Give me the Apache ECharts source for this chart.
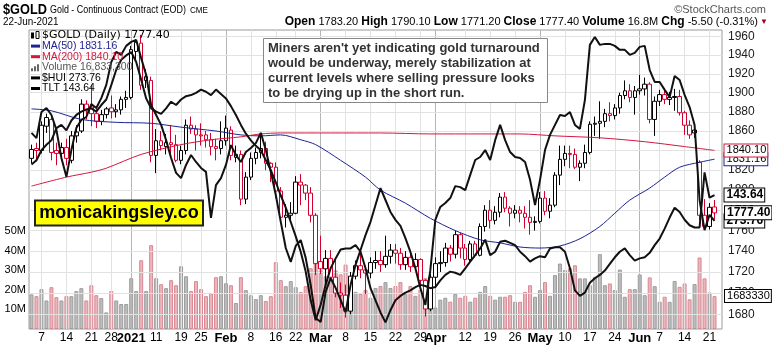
<!DOCTYPE html>
<html>
<head>
<meta charset="utf-8">
<title>$GOLD</title>
<script src="https://cdn.jsdelivr.net/npm/echarts@6/dist/echarts.min.js"></script>
<style>
html,body{margin:0;padding:0;background:#fff;}
#chart{width:772px;height:346px;}
</style>
</head>
<body>
<div id="chart"></div>
<script>
// ---------------- DATA ----------------
const months = ['Dec','Jan','Feb','Mar','Apr','May','Jun'];
const monthDays = [
  [3,4,7,8,9,10,11,14,15,16,17,18,21,22,23,24,28,29,30,31],
  [4,5,6,7,8,11,12,13,14,15,19,20,21,22,25,26,27,28,29],
  [1,2,3,4,5,8,9,10,11,12,16,17,18,19,22,23,24,25,26],
  [1,2,3,4,5,8,9,10,11,12,15,16,17,18,19,22,23,24,25,26,29,30,31],
  [1,5,6,7,8,9,12,13,14,15,16,19,20,21,22,23,26,27,28,29,30],
  [3,4,5,6,7,10,11,12,13,14,17,18,19,20,21,24,25,26,27,28],
  [1,2,3,4,7,8,9,10,11,14,15,16,17,18,21,22]
];
// x-axis tick labels
const xTickDates = ['Dec 7','Dec 14','Dec 21','Dec 28','Jan 4','Jan 11','Jan 19','Jan 25','Feb 1','Feb 8','Feb 16','Feb 22','Mar 1','Mar 8','Mar 15','Mar 22','Mar 29','Apr 1','Apr 12','Apr 19','Apr 26','May 3','May 10','May 17','May 24','Jun 1','Jun 7','Jun 14','Jun 21'];
const xTickText  = ['7','14','21','28','2021','11','19','25','Feb','8','16','22','Mar','8','15','22','29','Apr','12','19','26','May','10','17','24','Jun','7','14','21'];
const xMonthTicks = ['2021','Feb','Mar','Apr','May','Jun'];
// price axis ticks (right, log scale)
const priceTicks = [1680,1700,1720,1740,1760,1780,1800,1820,1840,1860,1880,1900,1920,1940,1960];
// daily OHLC: [open, close, low, high]
const ohlc = [
[1832,1841,1827,1846],[1842,1840,1829,1848],[1840,1866,1837,1870],[1865,1874,1858,1878],[1872,1838,1830,1876],
[1840,1837,1825,1848],[1837,1843,1830,1848],[1843,1832,1825,1852],[1830,1855,1827,1860],[1855,1859,1848,1866],
[1860,1888,1858,1893],[1888,1881,1872,1892],[1885,1878,1865,1908],[1878,1870,1863,1885],[1870,1877,1866,1882],
[1877,1883,1873,1885],[1884,1880,1873,1897],[1880,1882,1874,1888],[1882,1893,1877,1896],[1893,1895,1884,1902],
[1895,1946,1893,1950],[1944,1954,1935,1957],[1953,1908,1903,1962],[1917,1913,1905,1925],[1913,1835,1828,1917],
[1835,1850,1817,1862],[1850,1845,1840,1860],[1844,1848,1836,1857],[1848,1846,1836,1866],[1846,1830,1828,1856],
[1830,1840,1826,1845],[1840,1866,1836,1872],[1866,1862,1857,1875],[1862,1856,1840,1866],[1856,1855,1845,1868],
[1856,1851,1843,1860],[1851,1844,1835,1858],[1844,1842,1830,1852],[1842,1850,1836,1870],[1850,1863,1845,1876],
[1861,1835,1830,1865],[1833,1836,1828,1845],[1836,1791,1785,1840],[1791,1813,1786,1818],[1813,1832,1810,1838],
[1832,1838,1826,1843],[1838,1842,1832,1855],[1842,1827,1820,1849],[1827,1823,1808,1828],[1823,1799,1792,1828],
[1799,1773,1770,1803],[1773,1775,1763,1786],[1775,1777,1768,1788],[1777,1808,1776,1814],[1808,1805,1785,1816],
[1805,1797,1790,1806],[1797,1775,1768,1803],[1775,1728,1717,1777],[1730,1723,1718,1755],[1723,1733,1707,1741],
[1733,1715,1712,1741],[1715,1700,1696,1732],[1700,1698,1686,1710],[1698,1683,1677,1708],[1683,1716,1680,1720],
[1716,1726,1713,1731],[1726,1722,1714,1739],[1722,1719,1699,1726],[1719,1729,1714,1734],[1729,1731,1723,1740],
[1731,1727,1720,1740],[1727,1735,1724,1755],[1735,1741,1728,1747],[1741,1738,1728,1747],[1738,1727,1722,1743],
[1727,1734,1722,1740],[1734,1725,1720,1740],[1725,1732,1721,1738],[1732,1712,1705,1733],[1712,1685,1678,1713],
[1685,1715,1683,1718],[1715,1728,1705,1734],[1728,1729,1720,1740],[1729,1743,1725,1748],[1743,1737,1730,1746],
[1737,1756,1733,1760],[1756,1743,1733,1758],[1743,1732,1726,1747],[1732,1747,1730,1750],[1747,1736,1734,1750],
[1736,1764,1735,1767],[1764,1780,1759,1785],[1780,1770,1762,1790],[1770,1778,1766,1784],[1778,1793,1773,1797],
[1793,1782,1778,1798],[1782,1777,1764,1784],[1777,1780,1772,1785],[1780,1777,1768,1784],[1777,1773,1762,1784],
[1773,1768,1756,1790],[1768,1769,1760,1774],[1769,1792,1767,1798],[1792,1779,1775,1799],[1779,1785,1772,1792],
[1785,1815,1783,1818],[1815,1831,1805,1845],[1831,1837,1824,1845],[1837,1836,1822,1845],[1836,1823,1821,1842],
[1823,1827,1809,1830],[1827,1838,1822,1846],[1838,1867,1836,1870],[1867,1868,1855,1875],[1868,1870,1852,1891],
[1870,1878,1864,1883],[1878,1876,1870,1890],[1876,1884,1872,1888],[1884,1897,1878,1900],[1897,1902,1893,1913],
[1902,1895,1890,1909],[1895,1902,1877,1907],[1902,1904,1898,1919],[1904,1909,1897,1916],[1909,1872,1868,1911],
[1872,1891,1855,1896],[1891,1898,1886,1903],[1898,1893,1888,1905],[1893,1895,1887,1901],[1895,1896,1881,1904],
[1896,1879,1876,1903],[1879,1866,1856,1881],[1866,1856,1852,1871],[1858,1861,1853,1864],[1828,1775,1770,1830],
[1775,1764,1761,1791],[1764,1782.9,1761,1787],[1783.2,1777.4,1771.2,1790.1]
];
// daily volume, millions
const volumes = [
17.7,16.8,20.4,14.6,21.4,16.3,14.6,16.8,16.8,19.4,20.9,14.6,22.4,17.3,15.8,8.5,19.4,14.6,12.8,12.8,
26.0,19.4,35.2,19.4,42.9,26.0,22.9,20.9,25.0,22.4,32.1,27.0,19.4,24.5,20.4,16.8,18.3,26.5,27.0,
23.4,22.4,13.3,26.5,19.9,17.3,15.3,17.3,14.3,16.8,34.2,25.0,21.9,24.5,21.4,18.9,21.9,31.1,38,
30,27,26,30,28,33,26,19,18,20,16,21,22,24,21,22,24,18,22,17,20,26,18,
11,15,16,14,18,16,17,14,16,19,22,17,15,16.5,16.5,17.3,13.9,13.9,19.0,22.4,16.5,
19.9,24.0,17.0,27.6,33.5,30.1,31.1,32.6,25.9,25.9,22.4,26.7,38.3,22.4,23.3,19.9,30.4,16.5,20.4,20.4,
27.9,17.3,26.4,21.9,13.9,16.5,13.9,24.6,21.6,23.3,15.2,23.0,36.6,25.9,18.7,16.8333
];
// moving averages [day index, value]
const ma50 = [[0,1883],[4,1881],[10,1872],[17,1869],[24,1868],[30,1864],[37,1860],[42,1856],[46,1855],[50,1856],[54,1851],[57,1846],[62,1830],[67,1813],[70,1800],[75,1787],[80,1772],[85,1760],[90,1751],[94,1748],[98,1744],[102,1743],[106,1745],[110,1752],[114,1764],[117,1777],[120,1790],[124,1802],[127,1813],[130,1823],[134,1828],[137,1831.16]];
const ma200 = [[0,1804],[7,1813],[12,1818],[15,1822],[22,1836],[30,1846],[36,1851],[42,1854],[46,1857],[50,1858],[60,1858],[70,1858],[80,1857],[90,1857],[98,1857],[105,1855],[114,1853],[123,1849],[131,1844],[137,1840.10]];
// overlay: $HUI daily close
const hui = [
300.4,298.8,306.7,307.9,305.8,301.3,292.8,287.1,295.2,301.9,304.3,305.2,309.1,307.9,310.9,314.9,321.8,324.9,324.0,326.7,
327.9,328.5,323.0,317.9,308.8,305.8,302.8,298.2,292.8,288.3,286.7,290.7,293.7,291.6,289.8,288.6,274.7,284.6,286.7,
290.7,296.7,293.7,291.6,294.6,295.8,297.3,300.4,295.2,288.6,281.6,273.5,265.6,261.4,266.2,268.0,262.6,254.4,244.4,
243.2,252.3,256.5,253.5,249.9,246.2,254.4,260.5,265.0,269.5,273.5,278.6,283.7,280.1,276.5,274.1,272.3,268.6,264.4,259.5,253.5,248.4,258.9,
274.1,278.0,279.2,280.7,284.3,284.0,283.1,287.7,292.2,293.1,295.2,292.2,298.2,302.8,298.2,294.6,293.1,292.8,291.6,286.2,278.6,
286.2,295.2,299.8,302.8,305.8,305.5,306.7,302.8,301.6,310.3,327.0,329.4,327.0,327.3,327.3,326.7,325.5,325.5,324.0,324.6,
326.4,326.7,319.4,315.8,315.8,313.4,311.2,317.6,316.4,311.9,308.2,302.8,280.1,271.0,275.6,273.76
];
// overlay: TLT daily close
const tlt = [
146.4,146.8,147.7,148.2,148.6,149.7,150.0,149.5,150.4,150.9,151.2,151.4,151.5,151.2,151.8,152.3,153.6,155.0,155.9,156.3,
156.6,155.7,154.1,152.4,151.5,151.2,151.0,151.5,152.1,151.8,152.3,152.6,152.7,152.9,153.2,153.0,152.7,153.2,152.8,
152.4,151.7,150.9,150.0,149.2,148.6,148.1,147.7,146.8,145.9,144.8,143.6,142.5,141.2,139.9,138.5,136.7,134.1,132.3,
133.7,135.5,137.0,137.9,138.7,138.8,138.8,139.1,138.5,137.0,135.2,134.1,133.0,132.1,133.2,134.1,134.5,134.8,135.0,135.3,135.5,135.4,135.2,
135.3,135.9,136.4,136.7,136.6,136.4,137.0,137.6,138.2,138.8,139.6,138.2,138.5,139.4,139.5,139.3,139.1,138.5,138.1,137.6,137.9,
138.1,138.0,138.8,138.9,138.9,138.5,137.0,135.0,134.5,134.8,135.7,136.1,136.4,136.8,137.4,138.0,138.5,138.8,138.2,137.7,
137.9,138.0,138.4,139.1,139.7,140.6,141.6,142.5,142.1,141.4,140.9,140.7,140.7,145.7,143.4,143.64
];
const annotationLines = [
  "Miners aren't yet indicating gold turnaround",
  "would be underway, merely stabilization at",
  "current levels where selling pressure looks",
  "to be drying up in the short run."
];

// ---------------- BUILD ----------------
const categories = [];
months.forEach((m, i) => monthDays[i].forEach(d => categories.push(m + ' ' + d)));
categories.push(' ');
const tickMap = {};
xTickDates.forEach((d, i) => tickMap[d] = xTickText[i]);

const RED = '#d0002f', PINK = '#e8b7be', PINKB = '#d98892', GRAY = '#bdbdbd', GRAYB = '#9c9c9c';
const NAVY = '#1c2396', MAR = '#d4173f';
const FONT = 'Arial, "Liberation Sans", sans-serif';

const last = ohlc.length - 1;
const closeLast = ohlc[last][1];
const prevClose = ohlc[last - 1][1];

const candleData = ohlc.map((r, i) => {
  const prev = i ? ohlc[i - 1][1] : r[0];
  const col = r[1] < prev ? RED : '#000';
  return { value: r, itemStyle: { color: '#fff', color0: col, borderColor: col, borderColor0: col } };
});
const volData = volumes.map((v, i) => {
  const prev = i ? ohlc[i - 1][1] : ohlc[i][0];
  const down = ohlc[i][1] < prev;
  return { value: v, itemStyle: { color: down ? PINK : GRAY, borderColor: down ? PINKB : GRAYB, borderWidth: 1 } };
});

const tagStyle = (txt, border, bold) => ({
  show: true, formatter: () => txt, color: '#000', fontFamily: FONT,
  fontSize: bold ? 12 : 11, fontWeight: bold ? 'bold' : 'normal',
  backgroundColor: '#fff', borderColor: border, borderWidth: 1, padding: [1, 1, 0, 2]
});

const vLines = xTickDates.map((d, i) => ({
  xAxis: d,
  lineStyle: { color: xMonthTicks.includes(xTickText[i]) ? '#b5b5b5' : '#e2e2e2', width: 1, type: 'solid' }
}));

// header / legend graphics
const graphics = [];
const txt = (x, y, text, font, fill, align, sx) => graphics.push({
  type: 'text', x: x, y: y, z: 100, scaleX: sx || 1,
  style: { text: text, font: font, fill: fill || '#000', textAlign: align || 'left', align: align || 'left', textVerticalAlign: 'middle', verticalAlign: 'middle' }
});
txt(3, 10, '$GOLD', 'bold 15px ' + FONT, '#000', 'left', 0.85);
txt(50, 10, 'Gold - Continuous Contract (EOD)', '10.5px ' + FONT, '#000', 'left', 0.85);
txt(190, 11, 'CME', '9px ' + FONT, '#000', 'left', 0.9);
txt(3, 22, '22-Jun-2021', '11px ' + FONT, '#000', 'left', 0.9);
txt(766, 10, '\u00A9StockCharts.com', '11px ' + FONT, '#555', 'right');
const chg = closeLast - prevClose;
graphics.push({
  type: 'text', x: 758, y: 22, z: 100,
  style: {
    text: '{b|Open} ' + ohlc[last][0].toFixed(2) + ' {b|High} ' + ohlc[last][3].toFixed(2) +
      ' {b|Low} ' + ohlc[last][2].toFixed(2) + ' {b|Close} ' + closeLast.toFixed(2) +
      ' {b|Volume} ' + volumes[last].toFixed(1) + 'M {b|Chg} ' + chg.toFixed(2) +
      ' (' + (chg / prevClose * 100).toFixed(2) + '%)',
    font: '11px ' + FONT, fill: '#000', textAlign: 'right', align: 'right', textVerticalAlign: 'middle', verticalAlign: 'middle',
    rich: { b: { font: 'bold 12px ' + FONT, fill: '#000' } }
  }
});
txt(760, 22, '\u25BC', '8px ' + FONT, '#a0001e');

// legend inside plot
const legendRows = [
  { t: '$GOLD (Daily) ' + closeLast.toFixed(2), c: '#000', icon: 'candle', f: '11px "DejaVu Sans", Verdana, sans-serif' },
  { t: 'MA(50) ' + ma50[ma50.length - 1][1].toFixed(2), c: NAVY, icon: 'line', f: '10.5px ' + FONT },
  { t: 'MA(200) ' + ma200[ma200.length - 1][1].toFixed(2), c: MAR, icon: 'line', f: '10.5px ' + FONT },
  { t: 'Volume ' + Math.round(volumes[last] * 1e6).toLocaleString('en-US'), c: '#555', icon: 'bars', f: '10.5px ' + FONT },
  { t: '$HUI ' + hui[last].toFixed(2), c: '#000', icon: 'line', f: '10.5px ' + FONT },
  { t: 'TLT ' + tlt[last].toFixed(2), c: '#000', icon: 'line', f: '10.5px ' + FONT }
];
legendRows.forEach((r, i) => {
  const y = 35.5 + i * 10.6;
  txt(42, y, r.t, r.f, r.c);
  if (r.icon === 'line') {
    graphics.push({ type: 'rect', z: 100, shape: { x: 31, y: y - 1.5, width: 9, height: 3 }, style: { fill: r.c } });
  } else if (r.icon === 'bars') {
    [[31, 3], [34, 5], [37, 7]].forEach(b => graphics.push({ type: 'rect', z: 100, shape: { x: b[0], y: y + 4 - b[1], width: 2, height: b[1] }, style: { fill: '#666' } }));
  } else {
    graphics.push({ type: 'rect', z: 100, shape: { x: 31, y: y - 3, width: 3, height: 6 }, style: { fill: '#000' } });
    graphics.push({ type: 'rect', z: 100, shape: { x: 36, y: y - 4, width: 3, height: 7 }, style: { fill: '#fff', stroke: '#000', lineWidth: 1 } });
  }
});

// annotation box
graphics.push({ type: 'rect', z: 100, shape: { x: 263.5, y: 38.5, width: 284, height: 64 }, style: { fill: '#fff', stroke: '#888', lineWidth: 1 } });
annotationLines.forEach((l, i) => txt(268, 48 + i * 15.3, l, 'bold 13px ' + FONT, '#333'));
// watermark
graphics.push({ type: 'rect', z: 100, shape: { x: 35, y: 200.5, width: 168, height: 25 }, style: { fill: '#ffff00', stroke: '#222', lineWidth: 2 } });
txt(119, 213.5, 'monicakingsley.co', 'bold 18px ' + FONT, '#000', 'center');

const option = {
  animation: false,
  backgroundColor: '#fff',
  grid: { left: 29, right: 50, top: 30, bottom: 17, show: true, borderColor: '#9a9a9a', borderWidth: 1, containLabel: false },
  xAxis: {
    type: 'category', data: categories, boundaryGap: true,
    axisLine: { show: false }, axisTick: { show: false }, splitLine: { show: false },
    axisLabel: {
      interval: (idx, val) => tickMap[val] !== undefined,
      formatter: (val) => {
        const t = tickMap[val];
        if (t === undefined) return '';
        return xMonthTicks.includes(t) ? '{b|' + t + '}' : t;
      },
      color: '#000', fontSize: 12, fontFamily: FONT, margin: 3,
      rich: { b: { fontWeight: 'bold', fontSize: 13, fontFamily: FONT, color: '#000' } }
    }
  },
  yAxis: [
    { type: 'log', logBase: 10, min: 1666.4, max: 1967.3, position: 'right',
      axisLine: { show: false }, axisTick: { show: false }, axisLabel: { show: false }, splitLine: { show: false } },
    { type: 'value', min: 0, max: 153, interval: 10, position: 'left',
      axisLine: { show: false }, axisTick: { show: false }, splitLine: { show: false },
      axisLabel: { formatter: v => (v >= 10 && v <= 50) ? v + 'M' : '', color: '#000', fontSize: 11, fontFamily: FONT, margin: 3 } },
    { type: 'value', min: 241.1, max: 331.5, show: false },
    { type: 'value', min: 131.5, max: 158.6, show: false }
  ],
  series: [
    {
      name: 'Volume', type: 'bar', xAxisIndex: 0, yAxisIndex: 1, z: 1, barWidth: 4,
      data: volData,
      markLine: { silent: true, symbol: ['none', 'none'], z: 1.2, label: { show: false }, data: vLines },
      markPoint: { symbol: 'rect', symbolSize: 1, z: 10, itemStyle: { color: 'rgba(0,0,0,0)' },
        label: Object.assign(tagStyle(String(Math.round(volumes[last] * 1e5)), '#000', false), { position: 'right', distance: 10 }),
        data: [{ coord: [last, volumes[last]] }] }
    },
    {
      name: '$GOLD', type: 'candlestick', xAxisIndex: 0, yAxisIndex: 0, z: 3, barWidth: 4,
      itemStyle: { borderWidth: 1 },
      data: candleData,
      markLine: {
        silent: true, symbol: ['none', 'none'], z: 1.3,
        lineStyle: { color: '#e2e2e2', width: 1, type: 'solid' },
        label: { show: true, position: 'end', distance: 6, formatter: p => String(p.value), color: '#222', fontSize: 12, fontFamily: FONT },
        data: priceTicks.map(v => ({ yAxis: v }))
      },
      markPoint: { symbol: 'rect', symbolSize: 1, z: 10, itemStyle: { color: 'rgba(0,0,0,0)' },
        label: Object.assign(tagStyle(closeLast.toFixed(2), '#000', true), { position: 'right', distance: 10 }),
        data: [{ coord: [last, closeLast] }] }
    },
    { name: 'MA(50)', type: 'line', yAxisIndex: 0, z: 4, data: ma50, symbol: 'none', smooth: 0.3,
      lineStyle: { color: NAVY, width: 1 },
      endLabel: Object.assign(tagStyle(ma50[ma50.length - 1][1].toFixed(2), NAVY, false), { distance: 10 }) },
    { name: 'MA(200)', type: 'line', yAxisIndex: 0, z: 4, data: ma200, symbol: 'none', smooth: 0.3,
      lineStyle: { color: MAR, width: 1 },
      endLabel: Object.assign(tagStyle(ma200[ma200.length - 1][1].toFixed(2), MAR, false), { distance: 10 }) },
    { name: '$HUI', type: 'line', yAxisIndex: 2, z: 5, data: hui, symbol: 'none',
      lineStyle: { color: '#111', width: 2 },
      endLabel: Object.assign(tagStyle(hui[last].toFixed(2), '#000', true), { distance: 10 }) },
    { name: 'TLT', type: 'line', yAxisIndex: 3, z: 5, data: tlt, symbol: 'none',
      lineStyle: { color: '#111', width: 2 },
      endLabel: Object.assign(tagStyle(tlt[last].toFixed(2), '#000', true), { distance: 10 }) }
  ],
  graphic: graphics
};

const chart = echarts.init(document.getElementById('chart'), null, { renderer: 'canvas' });
chart.setOption(option);
</script>
</body>
</html>
